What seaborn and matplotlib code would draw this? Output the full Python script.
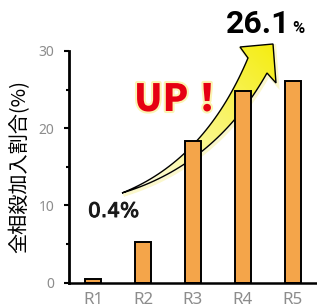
import seaborn as sns
import matplotlib.pyplot as plt
import matplotlib.patheffects as pe
from matplotlib.patches import Polygon
from matplotlib.ticker import MultipleLocator
import numpy as np
import pandas

# data
rounds = ["R1", "R2", "R3", "R4", "R5"]
share = [0.4, 5.2, 18.3, 24.8, 26.1]
df = pandas.DataFrame({"round": rounds, "share": share})

sns.set_theme(style="white")
plt.rcParams["font.family"] = ["Noto Sans CJK JP", "DejaVu Sans"]

W, H = 317, 308
fig = plt.figure(figsize=(W / 100, H / 100), dpi=100)

# overlay for the decoration arrow (pixel coords), behind the chart
deco = fig.add_axes([0, 0, 1, 1], zorder=0)
deco.set_xlim(0, W)
deco.set_ylim(H, 0)
deco.axis("off")


def qbez(p0, c, p1, n=40):
    t = np.linspace(0, 1, n)[:, None]
    return (1 - t) ** 2 * np.array(p0) + 2 * (1 - t) * t * np.array(c) + t ** 2 * np.array(p1)


upper = qbez((122, 193), (205, 160), (248, 58))
lower = qbez((267, 73), (215, 165), (122, 193))
head = np.array([(240, 47), (273, 44), (276, 83)])
pts = np.vstack([upper, head, lower])

glow = Polygon(pts + np.array([1.5, 2.0]), closed=True, facecolor="none",
               edgecolor="#f7f09a", lw=2.5, alpha=0.5, zorder=1)
deco.add_patch(glow)
arrow = Polygon(pts, closed=True, facecolor="none", edgecolor="black", lw=1.0, zorder=3)
deco.add_patch(arrow)

# gradient white -> yellow along the arrow
gx, gy = np.meshgrid(np.linspace(110, 285, 200), np.linspace(35, 205, 200))
d = np.array([273 - 122, 44 - 193], float)
t = ((gx - 122) * d[0] + (gy - 193) * d[1]) / (d @ d)
t = np.clip(t, 0, 1) ** 0.9
c0 = np.array([1.0, 1.0, 1.0])
c1 = np.array([0.96, 0.93, 0.07])
img = c0 + (c1 - c0) * t[..., None]
im = deco.imshow(img, extent=[110, 285, 205, 35], aspect="auto", zorder=2, interpolation="bilinear")
im.set_clip_path(arrow)

# main chart
ax = fig.add_axes([69 / W, 25.5 / H, 248 / W, 231.5 / H], zorder=1)
ax.patch.set_alpha(0)
sns.barplot(data=df, x="round", y="share", color="#f4a54a", edgecolor="black",
            linewidth=1.4, width=0.32, saturation=1, ax=ax)
ax.set_xlim(-0.48, 4.48)
ax.set_ylim(0, 30)
ax.yaxis.set_major_locator(MultipleLocator(10))
ax.yaxis.set_minor_locator(MultipleLocator(5))
for s in ["top", "right"]:
    ax.spines[s].set_visible(False)
ax.spines["left"].set_linewidth(2)
ax.spines["bottom"].set_linewidth(1.8)
ax.spines["left"].set_color("black")
ax.spines["bottom"].set_color("black")
ax.tick_params(axis="y", which="major", left=True, length=3.4, width=1.5, color="black",
               pad=7, labelsize=10, labelcolor="#8c8c8c", labelfontfamily="Noto Sans")
ax.tick_params(axis="y", which="minor", left=True, length=2, width=1.5, color="black")
ax.tick_params(axis="x", bottom=False, pad=1, labelsize=12.2, labelcolor="#8c8c8c",
               labelfontfamily="Noto Sans")
ax.set_xlabel("")
ax.set_ylabel("全相殺加入割合(%)", fontsize=14.5, color="black", labelpad=6)

# texts
deco.text(290, 33, f"{share[-1]:.1f}", fontsize=23, fontweight="bold", family="Roboto",
          ha="right", va="baseline", color="black", zorder=5)
deco.text(292, 33, "%", fontsize=12, fontweight="bold", family="Roboto",
          ha="left", va="baseline", color="black", zorder=5)
deco.text(88, 217, f"{share[0]:.1f}%", fontsize=14.5, family="DejaVu Sans",
          ha="left", va="baseline", color="#1a1a1a", zorder=5,
          path_effects=[pe.withStroke(linewidth=0.7, foreground="#1a1a1a")])
deco.text(134, 111, "UP！", fontsize=27, fontweight="heavy", ha="left", va="baseline",
          color="#e60012", zorder=5,
          path_effects=[pe.withStroke(linewidth=3, foreground="#fbf3b0")])

plt.savefig("out.png", dpi=100)
